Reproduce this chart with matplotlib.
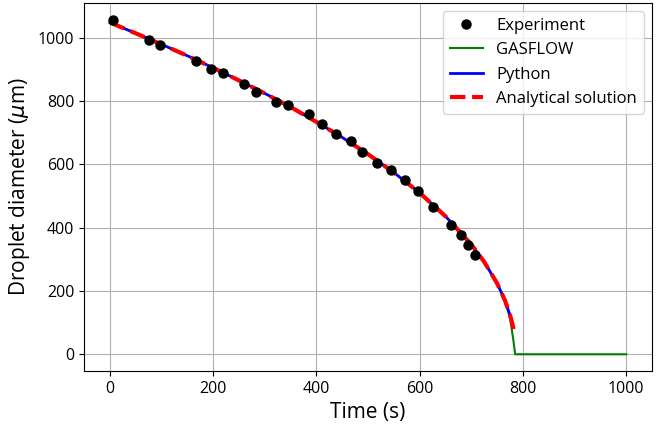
import matplotlib
matplotlib.use('Agg')
import matplotlib.pyplot as plt

plt.rcParams['font.family'] = ['Open Sans', 'DejaVu Sans']

# experiment points
exp_t = [5, 75, 97, 166, 196, 219, 260, 283, 321, 344, 385, 410, 438, 466,
         488, 517, 544, 571, 596, 625, 660, 680, 693, 708]
exp_d = [1057, 993, 976, 925, 900, 888, 853, 828, 796, 787, 760, 728, 695, 674,
         638, 605, 581, 550, 515, 464, 407, 378, 344, 313]

# model curves
curve_t = [0, 50, 100, 150, 200, 250, 300, 350, 400, 450, 500, 550, 600, 650,
           700, 725, 750, 765, 775, 780]
curve_d = [1048, 1014, 979, 943, 905, 865, 824, 781, 734, 685, 632, 574, 510, 436,
           347, 292, 224, 171, 124, 95]

ana_t = curve_t[:-1] + [779, 782.5]
ana_d = curve_d[:-1] + [100, 75]

gas_t = curve_t[:-2] + [775, 781, 785, 1000]
gas_d = curve_d[:-2] + [115, 50, 0, 0]

fig = plt.figure(figsize=(6.68, 4.24), dpi=100)
ax = fig.add_axes([0.126, 0.125, 0.85, 0.868])

ax.plot(exp_t, exp_d, 'o', color='black', markersize=6.5, label='Experiment', zorder=5)
ax.plot(gas_t, gas_d, color='green', lw=1.5, label='GASFLOW')
ax.plot(curve_t, curve_d, color='blue', lw=2, label='Python')
ax.plot(ana_t, ana_d, '--', color='red', lw=3, label='Analytical solution')

ax.set_xticks([0, 200, 400, 600, 800, 1000])
ax.set_yticks([0, 200, 400, 600, 800, 1000])
ax.tick_params(labelsize=11.5)
ax.grid(True)
ax.set_xlabel('Time (s)', fontsize=15)
ax.set_ylabel(r'Droplet diameter ($\mu$m)', fontsize=15)
ax.legend(loc='upper right', fontsize=12)

fig.savefig('out.png', dpi=100)
